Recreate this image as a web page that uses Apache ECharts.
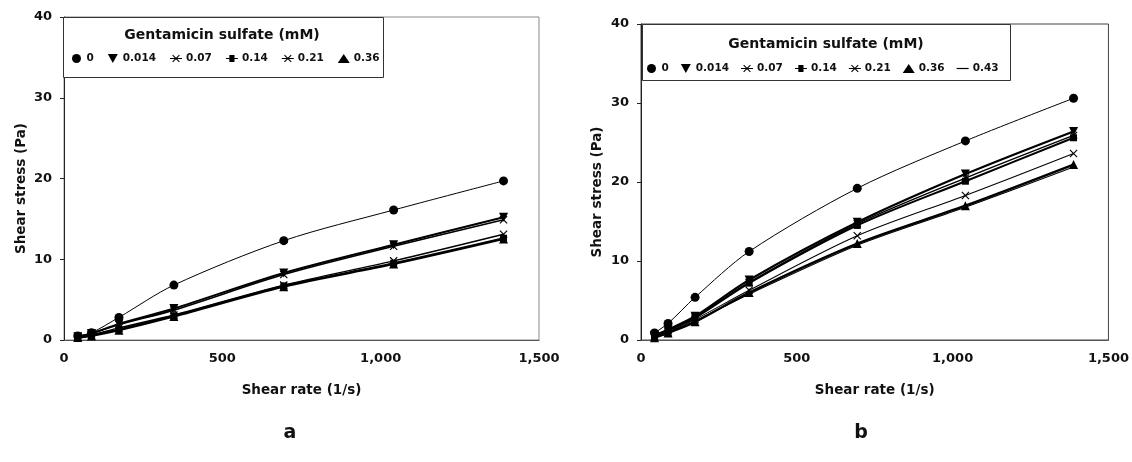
<!DOCTYPE html>
<html>
<head>
<meta charset="utf-8">
<script src="https://cdn.jsdelivr.net/npm/echarts@6/dist/echarts.min.js"></script>
<style>html,body{margin:0;padding:0;background:#fff}#c{width:1132px;height:462px}</style>
</head>
<body>
<div id="c"></div>
<script>
// ---- data ----
const shearRate = [43.4, 86.8, 173.5, 347, 694, 1041, 1388];
const concA = ['0', '0.014', '0.07', '0.14', '0.21', '0.36'];
const concB = ['0', '0.014', '0.07', '0.14', '0.21', '0.36', '0.43'];
const a_0    = [0.5, 0.9, 2.8, 6.8, 12.3, 16.1, 19.7];
const a_0014 = [0.4, 0.8, 2.0, 3.9, 8.3, 11.8, 15.2];
const a_007  = [0.4, 0.8, 1.9, 3.7, 8.1, 11.6, 14.9];
const a_014  = [0.3, 0.6, 1.3, 3.0, 6.7, 9.5, 12.6];
const a_021  = [0.3, 0.6, 1.5, 3.1, 6.8, 9.8, 13.1];
const a_036  = [0.3, 0.5, 1.2, 2.9, 6.6, 9.4, 12.5];
const b_0    = [0.9, 2.1, 5.4, 11.2, 19.2, 25.2, 30.6];
const b_0014 = [0.6, 1.3, 3.0, 7.6, 14.9, 21.0, 26.4];
const b_007  = [0.5, 1.2, 2.9, 7.3, 14.7, 20.5, 25.9];
const b_014  = [0.5, 1.2, 2.8, 7.2, 14.5, 20.1, 25.6];
const b_021  = [0.4, 1.0, 2.6, 6.3, 13.2, 18.3, 23.6];
const b_036  = [0.3, 0.9, 2.3, 6.0, 12.2, 17.0, 22.2];
const b_043  = [0.3, 0.9, 2.4, 5.8, 12.0, 16.8, 21.9];
const yTicks = [0, 10, 20, 30, 40];
const xTicks = [0, 500, 1000, 1500];
const legendTitle = 'Gentamicin sulfate (mM)';
const panelLabels = ['a', 'b'];

// ---- styling ----
const FONT = 'DejaVu Sans';
const X_PATH = 'path://M0,1L1,0L10,9L9,10ZM9,0L10,1L1,10L0,9Z';
const X_ICON = 'path://M0,1L1,0L10,9L9,10ZM9,0L10,1L1,10L0,9ZM-3,4.3L13,4.3L13,5.7L-3,5.7Z';
const DOWN_TRI = 'path://M0,0L10,0L5,9Z';
const SQ_ICON = 'path://M2,1L8,1L8,9L2,9ZM-2,4.3L12,4.3L12,5.7L-2,5.7Z';
const BAR_ICON = 'path://M0,4.3L14,4.3L14,5.7L0,5.7Z';

const markers = {
  '0':     {symbol: 'circle', size: 9, icon: 'circle'},
  '0.014': {symbol: DOWN_TRI, size: 9, icon: DOWN_TRI},
  '0.07':  {symbol: X_PATH, size: 8, icon: X_ICON},
  '0.14':  {symbol: 'rect', size: 7, icon: SQ_ICON},
  '0.21':  {symbol: X_PATH, size: 8, icon: X_ICON},
  '0.36':  {symbol: 'triangle', size: 9, icon: 'triangle'},
  '0.43':  {symbol: 'none', size: 0, icon: BAR_ICON}
};

function mk(name, values, idx, width) {
  const m = markers[name];
  return {
    type: 'line', name: name, xAxisIndex: idx, yAxisIndex: idx,
    data: shearRate.map((x, i) => [x, values[i]]),
    smooth: 0.3, symbol: m.symbol, symbolSize: m.size, showSymbol: m.symbol !== 'none',
    itemStyle: {color: '#000'},
    lineStyle: {color: '#000', width: width},
    z: 2
  };
}

const axisLabelStyle = {fontFamily: FONT, fontWeight: 'bold', fontSize: 13, color: '#111'};

function xAxis(idx) {
  return {
    type: 'value', gridIndex: idx, min: 0, max: 1500, interval: 500,
    name: 'Shear rate (1/s)', nameLocation: 'middle', nameGap: 43,
    nameTextStyle: {fontFamily: FONT, fontWeight: 'bold', fontSize: 13.5, color: '#111'},
    axisLine: {show: true, lineStyle: {color: '#555', width: 1}},
    axisTick: {show: false}, splitLine: {show: false},
    axisLabel: Object.assign({margin: 12, formatter: v => xTicks.includes(v) ? v.toLocaleString('en-US') : ''}, axisLabelStyle)
  };
}
function yAxis(idx, gap) {
  return {
    type: 'value', gridIndex: idx, min: 0, max: 40, interval: 10,
    name: 'Shear stress (Pa)', nameLocation: 'middle', nameGap: gap,
    nameTextStyle: {fontFamily: FONT, fontWeight: 'bold', fontSize: 13.5, color: '#111', padding: [0, 0, 0, -20]},
    axisLine: {show: true, lineStyle: {color: '#222', width: 1}},
    axisTick: {show: true, length: 4, lineStyle: {color: '#222'}},
    splitLine: {show: false},
    axisLabel: Object.assign({margin: 12, formatter: v => yTicks.includes(v) ? String(v) : ''}, axisLabelStyle)
  };
}
function legend(names, left, top, gap) {
  return {
    left: left, top: top, orient: 'horizontal', itemGap: gap, itemWidth: 12, itemHeight: 9,
    padding: 0, selectedMode: false,
    textStyle: {fontFamily: FONT, fontWeight: 'bold', fontSize: 10.5, color: '#111', padding: [0, 0, 0, -1]},
    data: names.map(n => ({name: n, icon: markers[n].icon, itemStyle: {color: '#000'}}))
  };
}

const seriesA = [
  mk('0', a_0, 0, 1), mk('0.014', a_0014, 0, 2), mk('0.07', a_007, 0, 1.6),
  mk('0.14', a_014, 0, 2), mk('0.21', a_021, 0, 1.4), mk('0.36', a_036, 0, 2)
];
const seriesB = [
  mk('0', b_0, 1, 1), mk('0.014', b_0014, 1, 2.2), mk('0.07', b_007, 1, 1.4),
  mk('0.14', b_014, 1, 2), mk('0.21', b_021, 1, 1.1), mk('0.36', b_036, 1, 2.4),
  mk('0.43', b_043, 1, 1.1)
];

const chart = echarts.init(document.getElementById('c'), null, {renderer: 'canvas'});
chart.setOption({
  animation: false,
  backgroundColor: '#fff',
  grid: [
    {left: 64, top: 17, width: 475, height: 323, show: true, borderColor: '#8a8a8a', borderWidth: 1, backgroundColor: 'transparent'},
    {left: 641, top: 24, width: 468, height: 316, show: true, borderColor: '#444', borderWidth: 1, backgroundColor: 'transparent'}
  ],
  xAxis: [xAxis(0), xAxis(1)],
  yAxis: [yAxis(0, 36), yAxis(1, 37)],
  legend: [legend(concA, 72, 53, 14), legend(concB, 647, 63, 12)],
  graphic: [
    {type: 'rect', z: 3, shape: {x: 63.5, y: 17.5, width: 320, height: 60}, style: {fill: '#fff', stroke: '#333', lineWidth: 1}},
    {type: 'rect', z: 3, shape: {x: 642.5, y: 24.5, width: 368, height: 56}, style: {fill: '#fff', stroke: '#333', lineWidth: 1}},
    {type: 'text', z: 5, x: 222, y: 35, style: {text: legendTitle, fontFamily: FONT, fontWeight: 'bold', fontSize: 14, fill: '#111', align: 'center', verticalAlign: 'middle'}},
    {type: 'text', z: 5, x: 826, y: 44, style: {text: legendTitle, fontFamily: FONT, fontWeight: 'bold', fontSize: 14, fill: '#111', align: 'center', verticalAlign: 'middle'}},
    {type: 'text', z: 5, x: 290, y: 433, style: {text: panelLabels[0], fontFamily: FONT, fontWeight: 'bold', fontSize: 19, fill: '#111', align: 'center', verticalAlign: 'middle'}},
    {type: 'text', z: 5, x: 861, y: 433, style: {text: panelLabels[1], fontFamily: FONT, fontWeight: 'bold', fontSize: 19, fill: '#111', align: 'center', verticalAlign: 'middle'}}
  ],
  series: seriesA.concat(seriesB)
});
</script>
</body>
</html>
